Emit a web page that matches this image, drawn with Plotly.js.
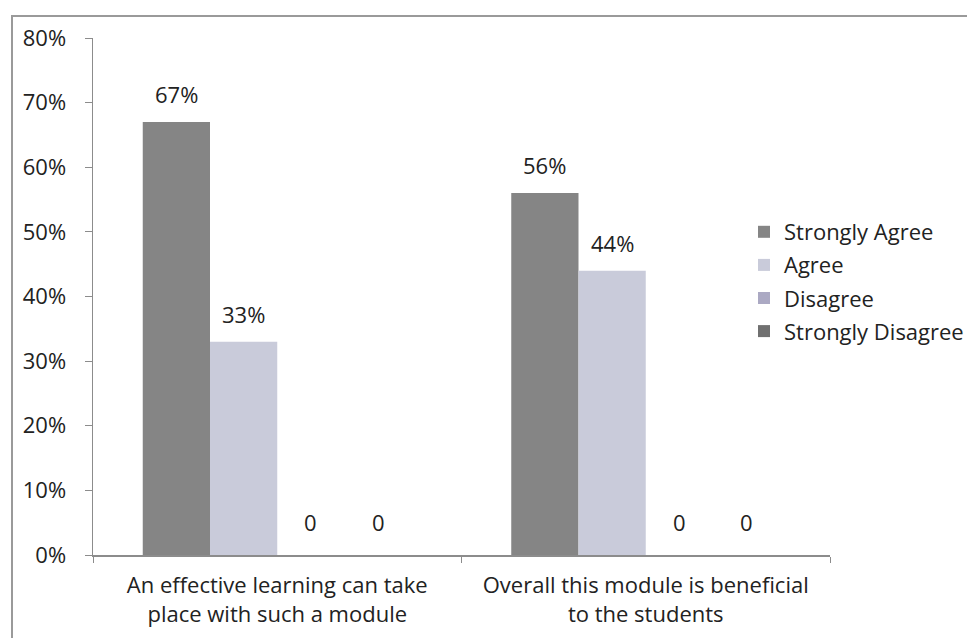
<!DOCTYPE html>
<html>
<head>
<meta charset="utf-8">
<script src="https://cdn.plot.ly/plotly-3.0.1.min.js"></script>
<style>html,body{margin:0;padding:0;background:#fff;}#chart{width:967px;height:638px;}</style>
</head>
<body>
<div id="chart"></div>
<script>
const categories = ["An effective learning can take<br>place with such a module", "Overall this module is beneficial<br>to the students"];
const seriesNames = ["Strongly Agree", "Agree", "Disagree", "Strongly Disagree"];
const stronglyAgree = [67, 56];
const agree = [33, 44];
const disagree = [0, 0];
const stronglyDisagree = [0, 0];
const yTickVals = [0, 10, 20, 30, 40, 50, 60, 70, 80];
const yTickText = ["0%", "10%", "20%", "30%", "40%", "50%", "60%", "70%", "80%"];

const colors = ["#858585", "#c9cbda", "#aba9c3", "#707070"];
const seriesValues = [stronglyAgree, agree, disagree, stronglyDisagree];
const FONT = "'Open Sans', 'DejaVu Sans', sans-serif";
const FS = 22;

const traces = seriesValues.map((vals, i) => ({
  type: "bar",
  name: seriesNames[i],
  x: categories,
  y: vals,
  marker: {color: colors[i], line: {width: 0}},
  legendgroup: "g" + i,
  hoverinfo: "skip"
}));

const L = 93, R = 830, T = 38, B = 555;
const W = R - L, H = B - T;
const px = x => (x - L) / W;
const py = y => (B - y) / H;
const BARGAP = 0.27;
const barPx = (W / categories.length) * (1 - BARGAP) / seriesValues.length;

// data labels placed above each bar, using the axes' own scales
const annotations = [];
seriesValues.forEach((vals, i) => {
  vals.forEach((v, c) => {
    annotations.push({
      xref: "x", yref: "y", x: c, y: v,
      xshift: (i - (seriesValues.length - 1) / 2) * barPx,
      yshift: v > 0 ? 28 : 33,
      yanchor: "middle", xanchor: "center",
      text: v > 0 ? v + "%" : "0",
      showarrow: false,
      font: {family: FONT, size: FS, color: "#222"}
    });
  });
});

const layout = {
  width: 967, height: 638,
  margin: {l: L, r: 967 - R, t: T, b: 638 - B, autoexpand: false},
  paper_bgcolor: "#fff", plot_bgcolor: "#fff",
  barmode: "group",
  bargap: BARGAP,
  bargroupgap: 0,
  showlegend: true,
  legend: {
    x: px(744), y: py(211), xanchor: "left", yanchor: "top",
    font: {family: FONT, size: FS, color: "#222"},
    tracegroupgap: 1.5,
    itemclick: false
  },
  xaxis: {
    type: "category", automargin: false,
    showline: true, linecolor: "#8c8c8c", linewidth: 1.5,
    ticks: "outside", tickson: "boundaries", ticklen: 6, tickcolor: "#8c8c8c",
    ticklabelstandoff: 10,
    tickfont: {family: FONT, size: FS, color: "#222"},
    showgrid: false, zeroline: false
  },
  yaxis: {
    range: [0, 80], automargin: false,
    tickvals: yTickVals, ticktext: yTickText,
    showline: true, linecolor: "#8c8c8c", linewidth: 1.5,
    ticks: "outside", ticklen: 7, tickcolor: "#8c8c8c",
    ticklabelstandoff: 14,
    tickfont: {family: FONT, size: FS, color: "#222"},
    showgrid: false, zeroline: false
  },
  annotations: annotations,
  shapes: [{
    type: "rect", xref: "paper", yref: "paper",
    x0: px(12), x1: px(990), y0: py(660), y1: py(16),
    line: {color: "#9a9a9a", width: 2}, fillcolor: "rgba(0,0,0,0)", layer: "below"
  }]
};

Plotly.newPlot("chart", traces, layout, {displayModeBar: false, staticPlot: true});
</script>
</body>
</html>
